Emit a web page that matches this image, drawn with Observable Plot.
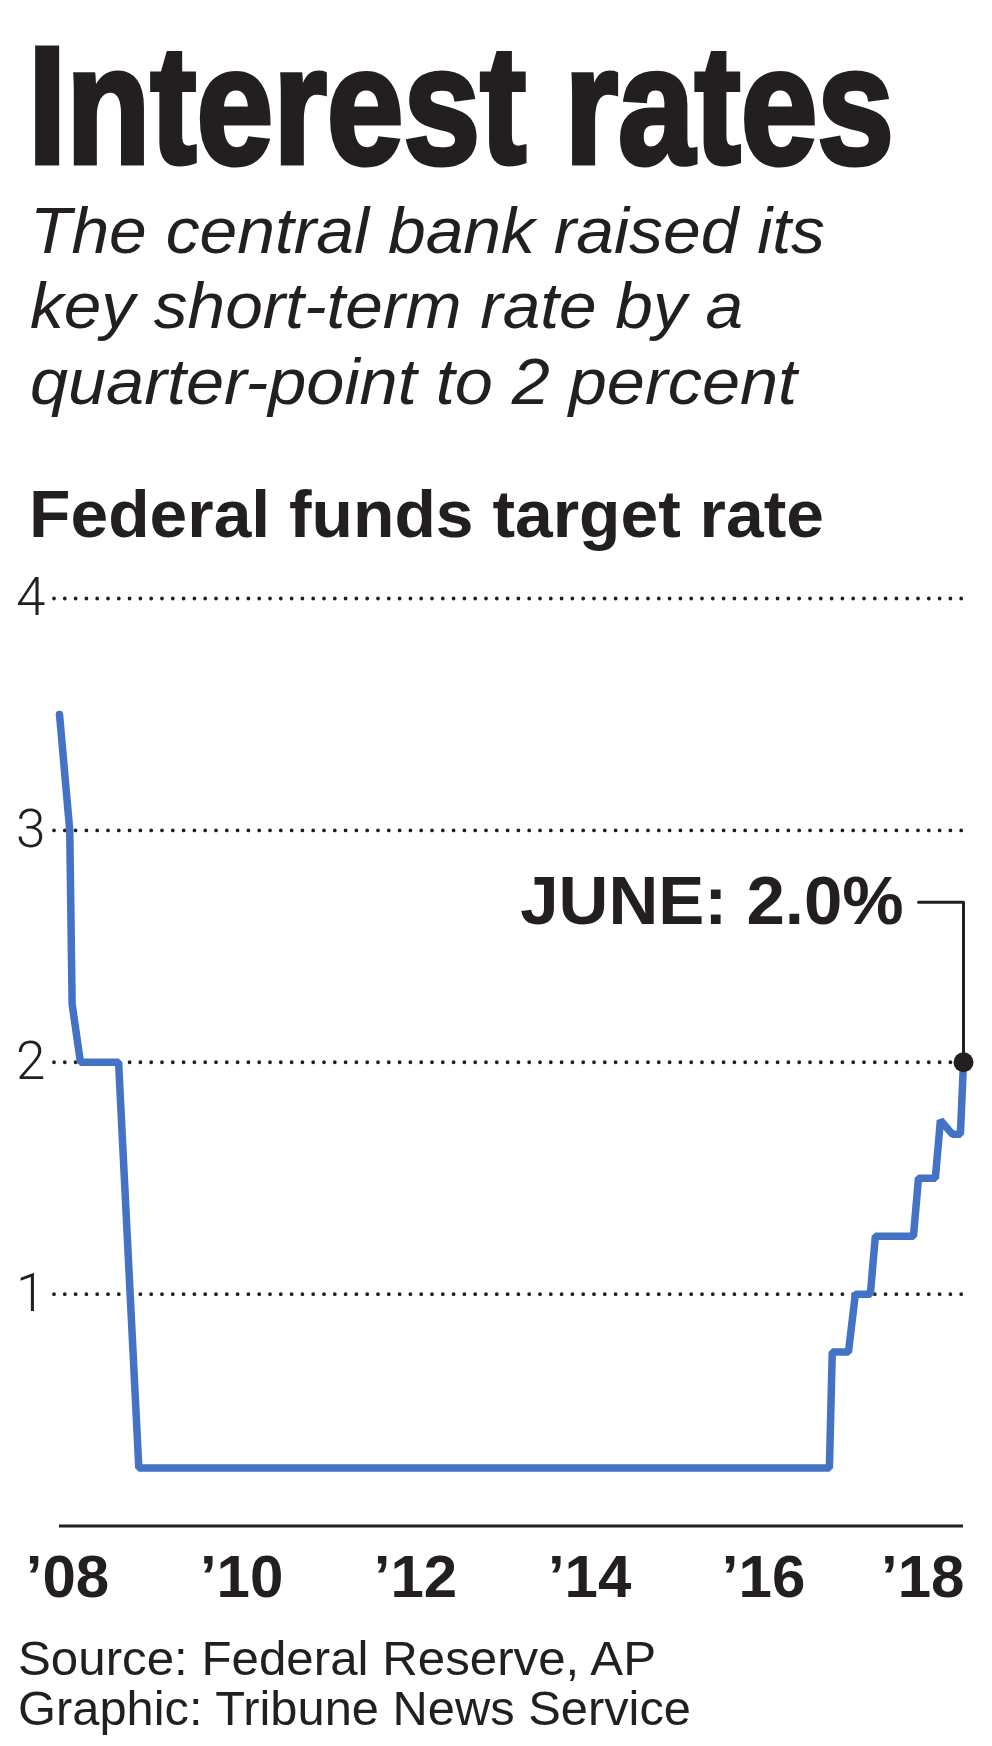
<!DOCTYPE html>
<html>
<head>
<meta charset="utf-8">
<script src="https://cdn.jsdelivr.net/npm/d3@7"></script>
<script src="https://cdn.jsdelivr.net/npm/@observablehq/plot@0.6"></script>
<style>
  html, body { margin: 0; padding: 0; background: #fff; }
  #wrap { position: relative; width: 992px; height: 1746px; overflow: hidden; color: #231f20; background: #fff; }
  .t { position: absolute; white-space: nowrap; line-height: 1; display: inline-block; transform-origin: 0 0; }
  #chart { position: absolute; left: 0; top: 560px; }
</style>
</head>
<body>
<div id="wrap"></div>
<script>
// ---- data ----
const titleText = "Interest rates";
const subtitleLines = [
  "The central bank raised its",
  "key short-term rate by a",
  "quarter-point to 2 percent"
];
const headingText = "Federal funds target rate";
const sourceLines = [
  "Source: Federal Reserve, AP",
  "Graphic: Tribune News Service"
];

const dates = ["2008-01-22","2008-03-05","2008-03-15","2008-04-19","2008-09-26","2008-12-20",
               "2016-11-27","2016-12-09","2017-02-15","2017-03-16","2017-05-18","2017-06-08",
               "2017-11-15","2017-12-06","2018-02-15","2018-03-08","2018-04-27","2018-05-31","2018-06-13"];
const rates = [3.5, 3.0, 2.25, 2.0, 2.0, 0.25,
               0.25, 0.75, 0.75, 1.0, 1.0, 1.25,
               1.25, 1.5, 1.5, 1.75, 1.69, 1.69, 2.0];

const yTicks = [1, 2, 3, 4];
const xTickYears = ["2008", "2010", "2012", "2014", "2016", "2018"];
const xTickLabels = ["\u201908", "\u201910", "\u201912", "\u201914", "\u201916", "\u201918"];

const annoText = "JUNE: 2.0%";
const annoDate = "2018-06-13";
const annoValue = 2.0;
const annoLabelLevel = 2.69;
const annoLeaderStart = "2017-12-06";
const annoTextEnd = "2017-10-05";

// ---- build tables ----
const series = dates.map((d, i) => ({date: new Date(d), rate: rates[i]}));
const ticks = xTickYears.map((y, i) => ({date: new Date(y + "-01-01"), label: xTickLabels[i]}));
const leader = [
  {date: new Date(annoLeaderStart), v: annoLabelLevel},
  {date: new Date(annoDate), v: annoLabelLevel},
  {date: new Date(annoDate), v: annoValue}
];

const wrap = document.getElementById("wrap");
const texts = [];
function addText(str, opts) {
  const s = document.createElement("span");
  s.className = "t";
  s.textContent = str;
  s.style.left = opts.left + "px";
  s.style.top = opts.top + "px";
  s.style.fontSize = opts.size + "px";
  s.style.fontFamily = opts.family;
  s.style.fontWeight = opts.weight || "normal";
  s.style.fontStyle = opts.style || "normal";
  if (opts.stroke) s.style.webkitTextStroke = opts.stroke + "px #231f20";
  wrap.appendChild(s);
  texts.push({el: s, w: opts.width});
}

addText(titleText, {left: 28, top: 22, size: 167, family: "'Liberation Sans', Arial, sans-serif", weight: "bold", stroke: 5, width: 866});
const subTops = [198, 273, 349];
const subWidths = [795, 713, 767];
subtitleLines.forEach((l, i) => addText(l, {left: 30, top: subTops[i], size: 65, family: "'Liberation Sans', Arial, sans-serif", weight: "normal", style: "italic", width: subWidths[i]}));
addText(headingText, {left: 29, top: 481, size: 66, family: "'Liberation Sans', Arial, sans-serif", weight: "bold", width: 795});
const srcTops = [1634, 1684];
const srcWidths = [638, 673];
sourceLines.forEach((l, i) => addText(l, {left: 18, top: srcTops[i], size: 49, family: "'Liberation Sans', Arial, sans-serif", width: srcWidths[i]}));

function fitAll() {
  texts.forEach(({el, w}) => {
    el.style.transform = "none";
    const r = el.getBoundingClientRect().width;
    if (r > 0) el.style.transform = `scaleX(${w / r})`;
  });
}

// ---- chart ----
const ink = "#231f20";
const blue = "#4472c4";
const chart = Plot.plot({
  width: 992,
  height: 1070,
  marginLeft: 54,
  marginRight: 29,
  marginTop: 38,
  marginBottom: 104.5,
  style: {background: "#fff", color: ink, fontFamily: "'Liberation Sans', Arial, sans-serif", overflow: "visible"},
  x: {type: "utc", domain: [new Date("2008-01-01"), new Date("2018-06-13")], axis: null},
  y: {domain: [0, 4], axis: null},
  marks: [
    Plot.ruleY(yTicks, {stroke: ink, strokeWidth: 3.8, strokeDasharray: "0 10.8", strokeLinecap: "round"}),
    Plot.text(yTicks, {frameAnchor: "left", y: d => d, text: d => String(d), textAnchor: "end", dx: -9,
      fontSize: 53, fontWeight: 300, fontFamily: "Roboto, 'Liberation Sans', sans-serif", fill: ink}),
    Plot.ruleY([0], {x1: series[0].date, x2: new Date(annoDate), stroke: ink, strokeWidth: 3}),
    Plot.line(series, {x: "date", y: "rate", stroke: blue, strokeWidth: 7.5, strokeLinecap: "round", strokeLinejoin: "miter"}),
    Plot.line(leader, {x: "date", y: "v", stroke: ink, strokeWidth: 3}),
    Plot.dot([{date: new Date(annoDate), v: annoValue}], {x: "date", y: "v", r: 10, fill: ink}),
    Plot.text([annoText], {x: new Date(annoTextEnd), y: annoLabelLevel, text: d => d, textAnchor: "end", lineAnchor: "middle",
      fontSize: 69, fontWeight: "bold", fill: ink}),
    Plot.text(ticks.slice(0, -1), {x: "date", y: 0, text: "label", lineAnchor: "top", dy: 28, dx: 13,
      fontSize: 60, fontWeight: "bold", fill: ink}),
    Plot.text(ticks.slice(-1), {x: "date", y: 0, text: "label", lineAnchor: "top", dy: 28, dx: -2,
      fontSize: 60, fontWeight: "bold", fill: ink})
  ]
});
chart.id = "chart";
wrap.appendChild(chart);

fitAll();
if (document.fonts && document.fonts.ready) document.fonts.ready.then(fitAll);
</script>
</body>
</html>
